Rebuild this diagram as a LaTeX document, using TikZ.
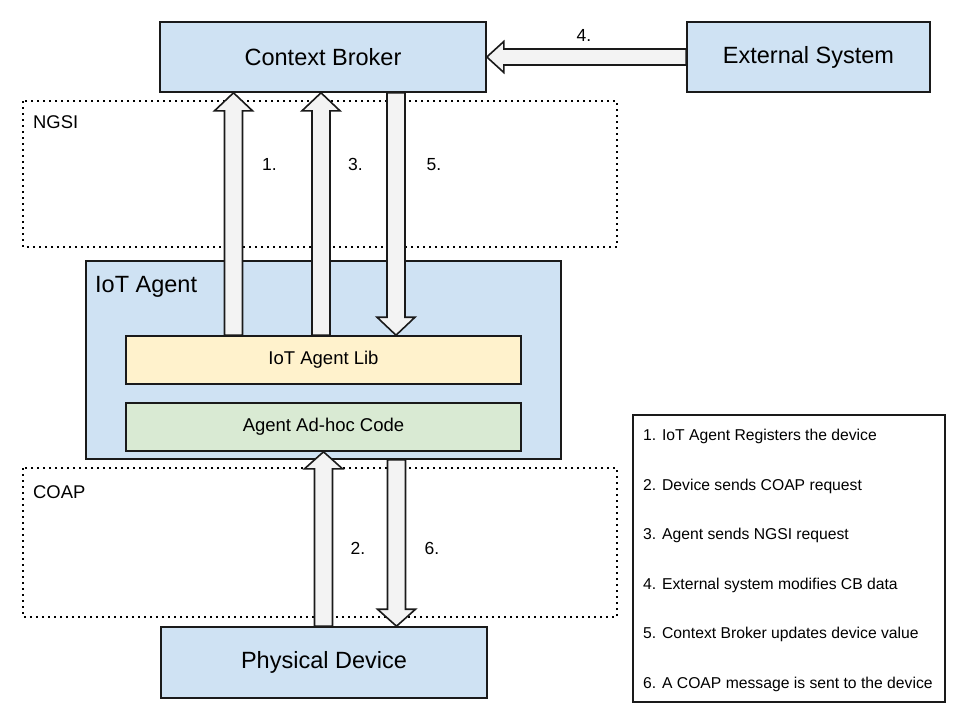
\documentclass[tikz,border=0pt]{standalone}
\usepackage{fontspec}
\setmainfont{Liberation Sans}
\usetikzlibrary{calc}
\definecolor{boxblue}{HTML}{CFE2F3}
\definecolor{libyellow}{HTML}{FFF2CC}
\definecolor{codegreen}{HTML}{D9EAD3}
\definecolor{arrowgray}{HTML}{F3F3F3}
\definecolor{edgecol}{HTML}{1A1A1A}
\newcommand{\blockarrow}[5]{%
  \coordinate (ba-h) at ($(#2)!#5!(#1)$);
  \draw[barrow] ($(#1)!#3!90:(#2)$) -- ($(ba-h)!#3!90:(#2)$) -- ($(ba-h)!#4!90:(#2)$) -- (#2)
    -- ($(ba-h)!#4!-90:(#2)$) -- ($(ba-h)!#3!-90:(#2)$) -- ($(#1)!#3!-90:(#2)$) -- cycle;
}
\begin{document}
\begin{tikzpicture}[x=1pt,y=-1pt,
  box/.style={draw=edgecol, line width=1.6pt, inner sep=0pt, align=center},
  bigbox/.style={box, fill=boxblue, font=\fontsize{23.5}{28}\selectfont},
  layerbox/.style={box, minimum width=395pt, minimum height=48pt, font=\fontsize{18.5}{22}\selectfont},
  zone/.style={draw=black, line width=1.9pt, line cap=butt, dash pattern=on 1.9pt off 4.1pt},
  zonelabel/.style={anchor=base west, inner sep=0pt, font=\fontsize{18.4}{22}\selectfont},
  numlabel/.style={inner sep=0pt, font=\fontsize{17.5}{21}\selectfont},
  legendtext/.style={anchor=base west, inner sep=0pt, font=\fontsize{15.7}{19}\selectfont},
  barrow/.style={draw=edgecol, line width=1.6pt, fill=arrowgray, line join=miter},
]
\useasboundingbox[fill=white] (0,0) rectangle (960,720);

% protocol zones
\draw[zone] (23,101) rectangle (617,247);
\draw[zone] (23,468) rectangle (617,617);
\node[zonelabel] (ngsi) at (33,128) {NGSI};
\node[zonelabel] (coap) at (33,498) {COAP};

% main boxes
\node[bigbox, minimum width=326pt, minimum height=70pt] (cb) at (323,57) {Context Broker};
\node[bigbox, minimum width=243pt, minimum height=70pt] (ext) at (808.5,57) {External System};
\node[bigbox, minimum width=326pt, minimum height=71pt] (dev) at (324,662.5) {Physical Device};
\node[box, fill=boxblue, minimum width=475pt, minimum height=198pt] (agent) at (323.5,360) {};
\node[anchor=base west, inner sep=0pt, font=\fontsize{23.5}{28}\selectfont] (agentlabel) at (95,292) {IoT Agent};
\node[layerbox, fill=libyellow] (lib) at (323.5,360) {IoT Agent Lib};
\node[layerbox, fill=codegreen] (code) at (323.5,427) {Agent Ad-hoc Code};

% arrow columns
\coordinate (c1) at (233.5,0);
\coordinate (c3) at (321,0);
\coordinate (c5) at (396,0);
\coordinate (c2) at (323.5,0);
\coordinate (c6) at (396.5,0);
\coordinate (a1s) at (c1 |- lib.north);
\coordinate (a1e) at (c1 |- cb.south);
\coordinate (a3s) at (c3 |- lib.north);
\coordinate (a3e) at (c3 |- cb.south);
\coordinate (a5s) at (c5 |- cb.south);
\coordinate (a5e) at (c5 |- lib.north);
\coordinate (a2s) at (c2 |- dev.north);
\coordinate (a2e) at (c2 |- code.south);
\coordinate (a6s) at (c6 |- agent.south);
\coordinate (a6e) at (c6 |- dev.north);

\blockarrow{ext.west}{cb.east}{8pt}{15.5pt}{17pt}
\blockarrow{a1s}{a1e}{9pt}{19pt}{18pt}
\blockarrow{a3s}{a3e}{9pt}{19pt}{18pt}
\blockarrow{a5s}{a5e}{9pt}{19pt}{18pt}
\blockarrow{a2s}{a2e}{9pt}{19pt}{17pt}
\blockarrow{a6s}{a6e}{9pt}{19pt}{17pt}

% step numbers
\node[numlabel] (n4) at (584,35) {4.};
\node[numlabel] (n1) at (269.5,164.5) {1.};
\node[numlabel] (n3) at (355.5,164.5) {3.};
\node[numlabel] (n5) at (434,164.5) {5.};
\node[numlabel] (n2) at (358,548) {2.};
\node[numlabel] (n6) at (432,548) {6.};

% legend
\node[draw=edgecol, line width=1.6pt, minimum width=312pt, minimum height=287pt, inner sep=0pt] (legend) at (789,558.5) {};
\node[legendtext] (l1) at (643,440.5) {1. IoT Agent Registers the device};
\node[legendtext] (l2) at (643,490.1) {2. Device sends COAP request};
\node[legendtext] (l3) at (643,539.7) {3. Agent sends NGSI request};
\node[legendtext] (l4) at (643,589.3) {4. External system modifies CB data};
\node[legendtext] (l5) at (643,638.9) {5. Context Broker updates device value};
\node[legendtext] (l6) at (643,688.5) {6. A COAP message is sent to the device};
\end{tikzpicture}
\end{document}
